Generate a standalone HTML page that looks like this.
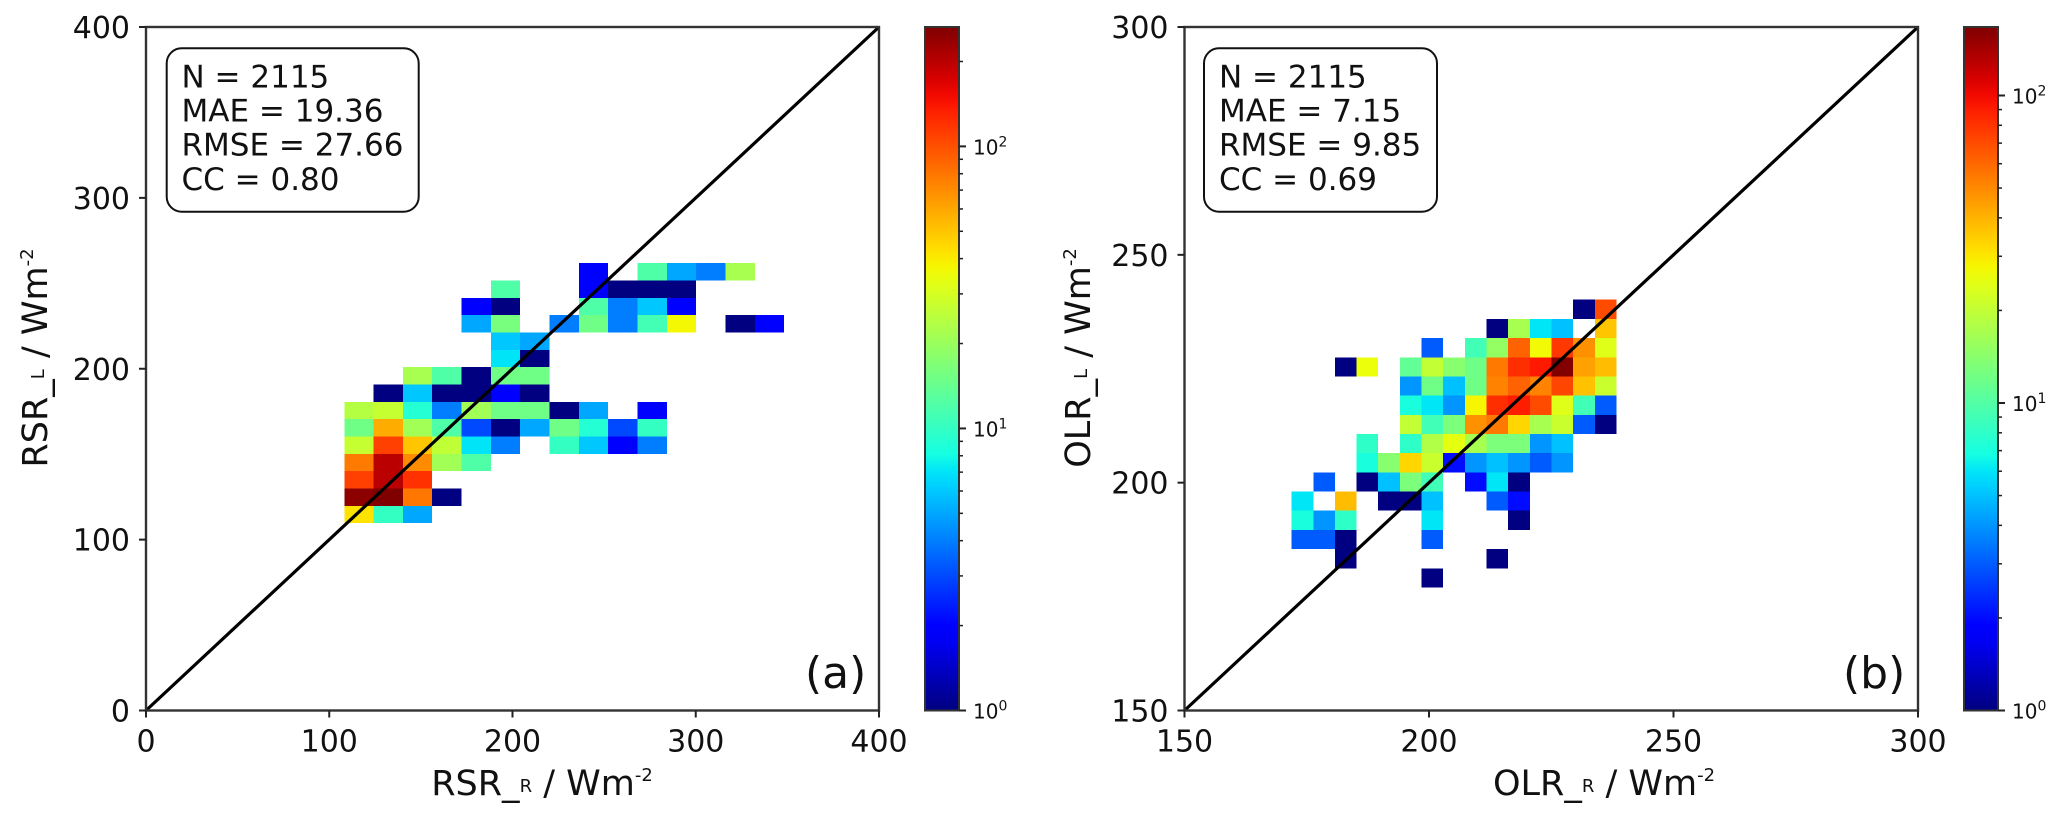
<!DOCTYPE html>
<html>
<head>
<meta charset="utf-8">
<title>RSR and OLR density scatter</title>
<style>
html,body{margin:0;padding:0;background:#fff;}
svg{display:block;font-family:"DejaVu Sans","Liberation Sans",sans-serif;fill:#111;}
</style>
</head>
<body>
<svg id="fig" width="2067" height="814" viewBox="0 0 2067 814" xmlns="http://www.w3.org/2000/svg">
  <defs></defs>
  <rect x="0" y="0" width="2067" height="814" fill="#fff"/>
  <g id="panelA"></g>
  <g id="panelB"></g>

  <text x="542" y="795" text-anchor="middle" font-size="35">RSR_<tspan font-size="18" dy="-3">R</tspan><tspan dy="3"> / Wm</tspan><tspan font-size="18" dy="-14">-2</tspan></text>
  <text transform="translate(47,358) rotate(-90)" text-anchor="middle" font-size="35">RSR_<tspan font-size="18" dy="-3">L</tspan><tspan dy="3"> / Wm</tspan><tspan font-size="18" dy="-14">-2</tspan></text>
  <text x="1604" y="795" text-anchor="middle" font-size="35">OLR_<tspan font-size="18" dy="-3">R</tspan><tspan dy="3"> / Wm</tspan><tspan font-size="18" dy="-14">-2</tspan></text>
  <text transform="translate(1090,358) rotate(-90)" text-anchor="middle" font-size="35">OLR_<tspan font-size="18" dy="-3">L</tspan><tspan dy="3"> / Wm</tspan><tspan font-size="18" dy="-14">-2</tspan></text>

  <g>
    <rect x="166.7" y="48.3" width="252" height="163.4" rx="15" ry="15" fill="#fff" stroke="#111" stroke-width="2"/>
    <text x="181.5" y="87.3" font-size="31">N = 2115</text>
    <text x="181.5" y="121.5" font-size="31">MAE = 19.36</text>
    <text x="181.5" y="155.7" font-size="31">RMSE = 27.66</text>
    <text x="181.5" y="190" font-size="31">CC = 0.80</text>
  </g>
  <g>
    <rect x="1204" y="48.3" width="233" height="163.4" rx="15" ry="15" fill="#fff" stroke="#111" stroke-width="2"/>
    <text x="1219" y="87.3" font-size="31">N = 2115</text>
    <text x="1219" y="121.5" font-size="31">MAE = 7.15</text>
    <text x="1219" y="155.7" font-size="31">RMSE = 9.85</text>
    <text x="1219" y="190" font-size="31">CC = 0.69</text>
  </g>
  <text x="805" y="688" font-size="44">(a)</text>
  <text x="1843" y="688" font-size="44">(b)</text>
</svg>

<script>
// Panel (a): counts per 2-D bin, rows listed top to bottom, 0 = empty bin
const rsrCounts = [
  [0,0,0,0,0,0,0,0,2,0,12,5,4,22,0],
  [0,0,0,0,0,12,0,0,2,1,1,1,0,0,0],
  [0,0,0,0,2,1,0,0,12,4,6,2,0,0,0],
  [0,0,0,0,5,16,0,4,15,4,11,37,0,1,2],
  [0,0,0,0,0,6,5,0,0,0,0,0,0,0,0],
  [0,0,0,0,0,7,1,0,0,0,0,0,0,0,0],
  [0,0,22,12,1,15,15,0,0,0,0,0,0,0,0],
  [0,1,6,1,1,2,1,0,0,0,0,0,0,0,0],
  [24,27,9,4,21,15,15,1,5,0,2,0,0,0,0],
  [15,58,21,12,3,1,5,15,9,3,10,0,0,0,0],
  [27,110,50,26,7,4,0,10,6,2,4,0,0,0,0],
  [78,200,70,21,12,0,0,0,0,0,0,0,0,0,0],
  [110,200,120,0,0,0,0,0,0,0,0,0,0,0,0],
  [250,265,80,1,0,0,0,0,0,0,0,0,0,0,0],
  [42,10,5,0,0,0,0,0,0,0,0,0,0,0,0]
];
const rsrTicksX = [0,100,200,300,400];
const rsrTicksY = [0,100,200,300,400];
const rsrColorMax = 265;

// Panel (b): counts per 2-D bin, rows listed top to bottom, 0 = empty bin
const olrCounts = [
  [0,0,0,0,0,0,0,0,0,0,0,0,0,1,70],
  [0,0,0,0,0,0,0,0,0,1,17,6,5,0,36],
  [0,0,0,0,0,0,3,0,9,15,62,27,78,48,24],
  [0,0,1,26,0,11,20,14,12,55,82,92,165,44,38],
  [0,0,0,0,0,4,12,5,12,52,62,52,72,37,21],
  [0,0,0,0,0,7,6,4,28,82,90,70,24,9,3],
  [0,0,0,0,0,20,9,13,48,55,33,17,21,3,1],
  [0,0,0,8,0,8,18,25,17,13,13,4,5,0,0],
  [0,0,0,7,14,33,21,2,4,5,4,3,4,0,0],
  [0,3,0,1,5,13,9,0,2,6,1,0,0,0,0],
  [6,0,38,0,1,1,5,0,0,3,2,0,0,0,0],
  [7,4,8,0,0,0,6,0,0,0,1,0,0,0,0],
  [3,3,1,0,0,0,3,0,0,0,0,0,0,0,0],
  [0,0,1,0,0,0,0,0,0,1,0,0,0,0,0],
  [0,0,0,0,0,0,1,0,0,0,0,0,0,0,0]
];
const olrTicksX = [150,200,250,300];
const olrTicksY = [150,200,250,300];
const olrColorMax = 167;

const colorbarExponents = [0,1,2];
const colorbarMinorSteps = [2,3,4,5,6,7,8,9];

const SVGNS = 'http://www.w3.org/2000/svg';
function make(parent, tag, attrs){
  const el = document.createElementNS(SVGNS, tag);
  for (const k in attrs) el.setAttribute(k, attrs[k]);
  parent.appendChild(el);
  return el;
}
function ramp(f, pts){
  for (let i = 1; i < pts.length; i++){
    if (f <= pts[i][0]){
      const a = pts[i-1], b = pts[i];
      return a[1] + (b[1]-a[1]) * (f-a[0]) / (b[0]-a[0]);
    }
  }
  return pts[pts.length-1][1];
}
function jet(f){
  f = Math.max(0, Math.min(1, f));
  const r = ramp(f, [[0,0],[0.35,0],[0.66,1],[0.89,1],[1,0.5]]);
  const g = ramp(f, [[0,0],[0.125,0],[0.375,1],[0.64,1],[0.91,0],[1,0]]);
  const b = ramp(f, [[0,0.5],[0.11,1],[0.34,1],[0.65,0],[1,0]]);
  return 'rgb(' + Math.round(r*255) + ',' + Math.round(g*255) + ',' + Math.round(b*255) + ')';
}

function drawPanel(cfg){
  const g = document.getElementById(cfg.id);
  const xScale = v => cfg.left + (v - cfg.xMin) * (cfg.right - cfg.left) / (cfg.xMax - cfg.xMin);
  const yScale = v => cfg.bottom - (v - cfg.yMin) * (cfg.bottom - cfg.top) / (cfg.yMax - cfg.yMin);
  const colorFrac = v => Math.log(v) / Math.log(cfg.colorMax);
  const nRows = cfg.counts.length;

  cfg.counts.forEach((row, r) => {
    const j = nRows - 1 - r;
    row.forEach((count, c) => {
      if (!count) return;
      const x0 = xScale(cfg.binX0 + c * cfg.binW);
      const x1 = xScale(cfg.binX0 + (c + 1) * cfg.binW);
      const y1 = yScale(cfg.binY0 + (j + 1) * cfg.binH);
      const y0 = yScale(cfg.binY0 + j * cfg.binH);
      const cell = make(g, 'rect', {x: x0, y: y1, width: x1 - x0, height: y0 - y1, fill: jet(colorFrac(count)), 'shape-rendering': 'crispEdges'});
      
      
    });
  });

  const diag = make(g, 'line', {x1: xScale(cfg.xMin), y1: yScale(cfg.yMin), x2: xScale(cfg.xMax), y2: yScale(cfg.yMax), stroke: '#000', 'stroke-width': 3.2});
  
  

  const frame = make(g, 'rect', {x: cfg.left, y: cfg.top, width: cfg.right - cfg.left, height: cfg.bottom - cfg.top, fill: 'none', stroke: '#333', 'stroke-width': 2.4});
  
  

  cfg.ticksX.forEach(t => {
    const x = xScale(t);
    const tick = make(g, 'line', {x1: x, x2: x, y1: cfg.bottom, y2: cfg.bottom + 7, stroke: '#222', 'stroke-width': 2});
    
    
    const label = make(g, 'text', {x: x, y: cfg.bottom + 41, 'text-anchor': 'middle', 'font-size': 30});
    label.textContent = String(t);
    
    
  });
  cfg.ticksY.forEach(t => {
    const y = yScale(t);
    const tick = make(g, 'line', {x1: cfg.left - 7, x2: cfg.left, y1: y, y2: y, stroke: '#222', 'stroke-width': 2});
    
    
    const label = make(g, 'text', {x: cfg.left - 16, y: y + 11, 'text-anchor': 'end', 'font-size': 30});
    label.textContent = String(t);
    
    
  });

  // Colorbar
  const cbScale = v => cfg.bottom - Math.log(v) / Math.log(cfg.colorMax) * (cfg.bottom - cfg.top);
  const defs = document.querySelector('#fig defs');
  const grad = make(defs, 'linearGradient', {id: cfg.id + 'Jet', x1: 0, y1: 1, x2: 0, y2: 0});
  for (let s = 0; s <= 40; s++){
    make(grad, 'stop', {offset: s / 40, 'stop-color': jet(s / 40)});
  }
  const bar = make(g, 'rect', {x: cfg.cbLeft, y: cfg.top, width: cfg.cbRight - cfg.cbLeft, height: cfg.bottom - cfg.top, fill: 'url(#' + cfg.id + 'Jet)', stroke: '#333', 'stroke-width': 2});
  
  

  colorbarExponents.forEach(e => {
    const base = Math.pow(10, e);
    const y = cbScale(base);
    const tick = make(g, 'line', {x1: cfg.cbRight, x2: cfg.cbRight + 7, y1: y, y2: y, stroke: '#222', 'stroke-width': 2});
    
    
    const label = make(g, 'text', {x: cfg.cbRight + 14, y: y + 8, 'font-size': 20});
    label.textContent = '10';
    
    
    const sup = make(label, 'tspan', {dy: -8, 'font-size': 14});
    sup.textContent = String(e);
    colorbarMinorSteps.forEach(m => {
      const v = base * m;
      if (v > cfg.colorMax) return;
      const my = cbScale(v);
      const minor = make(g, 'line', {x1: cfg.cbRight, x2: cfg.cbRight + 4, y1: my, y2: my, stroke: '#222', 'stroke-width': 1.5});
      
      
    });
  });
}

drawPanel({
  id: 'panelA', counts: rsrCounts, ticksX: rsrTicksX, ticksY: rsrTicksY, colorMax: rsrColorMax,
  xMin: 0, xMax: 400, yMin: 0, yMax: 400,
  left: 146, right: 879, top: 27, bottom: 710.5,
  binX0: 108.2, binW: 16, binY0: 109.6, binH: 10.15,
  cbLeft: 925, cbRight: 959
});
drawPanel({
  id: 'panelB', counts: olrCounts, ticksX: olrTicksX, ticksY: olrTicksY, colorMax: olrColorMax,
  xMin: 150, xMax: 300, yMin: 150, yMax: 300,
  left: 1184.5, right: 1918, top: 27, bottom: 710.5,
  binX0: 171.9, binW: 4.43, binY0: 177, binH: 4.21,
  cbLeft: 1964, cbRight: 1998
});
</script>
</body>
</html>
